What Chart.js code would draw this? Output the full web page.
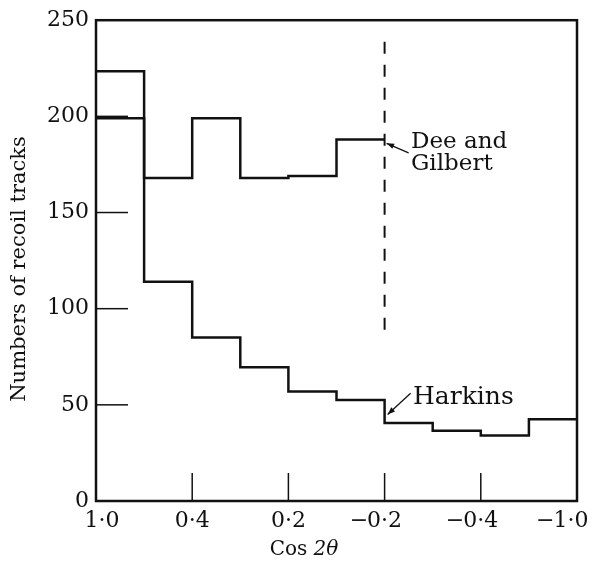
<!DOCTYPE html>
<html>
<head>
<meta charset="utf-8">
<script src="https://cdn.jsdelivr.net/npm/chart.js@4.4.1/dist/chart.umd.min.js"></script>
<style>
  body { margin: 0; background: #fff; }
  #wrap { width: 593px; height: 564px; position: relative; }
</style>
</head>
<body>
<div id="wrap"><canvas id="recoilChart"></canvas></div>
<script>
// bin edges 0..10 on the x axis, tick labels every second edge
const binEdges = [0, 1, 2, 3, 4, 5, 6, 7, 8, 9, 10];
const xTickLabels = ['1·0', '0·4', '0·2', '−0·2', '−0·4', '−1·0'];

// counts per bin
const harkins = [199, 114, 85, 69.5, 57, 52.5, 40.5, 36.5, 34, 42.5];
const deeGilbert = [223.5, 168, 199, 168, 169, 188];

// dashed marker at cos 2θ = −0·2
const dashX = 6;
const dashRange = [89, 241];

function histPoints(values) {
  const pts = values.map((v, i) => ({ x: binEdges[i], y: v }));
  pts.push({ x: binEdges[values.length], y: values[values.length - 1] });
  return pts;
}

const serif = '"DejaVu Serif", "Liberation Serif", serif';

const decorPlugin = {
  id: 'decor',
  afterDraw(chart) {
    const ctx = chart.ctx;
    const a = chart.chartArea;
    const xs = chart.scales.x, ys = chart.scales.y;
    ctx.save();
    ctx.strokeStyle = '#111';
    ctx.fillStyle = '#111';

    // frame
    ctx.lineWidth = 2.5;
    ctx.strokeRect(a.left, a.top, a.right - a.left, a.bottom - a.top);

    // inward tick marks
    ctx.lineWidth = 1.5;
    [50, 100, 150, 200].forEach(v => {
      const y = ys.getPixelForValue(v);
      ctx.beginPath(); ctx.moveTo(a.left, y); ctx.lineTo(a.left + 32, y); ctx.stroke();
    });
    [2, 4, 6, 8].forEach(v => {
      const x = xs.getPixelForValue(v);
      ctx.beginPath(); ctx.moveTo(x, a.bottom); ctx.lineTo(x, a.bottom - 28); ctx.stroke();
    });

    // x tick labels: numeric part centred on the tick, minus sign hanging left
    ctx.font = '22px ' + serif;
    ctx.textBaseline = 'alphabetic';
    xTickLabels.forEach((lab, i) => {
      let x = xs.getPixelForValue(i * 2);
      if (i === 0) x += 6;
      if (i === xTickLabels.length - 1) x -= 6;
      const num = lab.replace('−', '');
      const wn = ctx.measureText(num).width;
      ctx.textAlign = 'left';
      ctx.fillText(num, x - wn / 2, 527);
      if (lab.startsWith('−')) {
        ctx.textAlign = 'right';
        ctx.fillText('−', x - wn / 2 + 1, 527);
      }
    });

    // arrows
    function arrow(x1, y1, x2, y2) {
      ctx.lineWidth = 1.3;
      ctx.beginPath(); ctx.moveTo(x1, y1); ctx.lineTo(x2, y2); ctx.stroke();
      const ang = Math.atan2(y2 - y1, x2 - x1);
      ctx.beginPath();
      ctx.moveTo(x2, y2);
      ctx.lineTo(x2 - 8 * Math.cos(ang - 0.35), y2 - 8 * Math.sin(ang - 0.35));
      ctx.lineTo(x2 - 8 * Math.cos(ang + 0.35), y2 - 8 * Math.sin(ang + 0.35));
      ctx.closePath(); ctx.fill();
    }
    const gx = xs.getPixelForValue(dashX);
    arrow(gx + 24, ys.getPixelForValue(181), gx + 2, ys.getPixelForValue(186));
    arrow(gx + 26, ys.getPixelForValue(56), gx + 3, ys.getPixelForValue(45));

    // series labels
    ctx.textAlign = 'left';
    ctx.font = '23px ' + serif;
    ctx.fillText('Dee and', 411, 148);
    ctx.fillText('Gilbert', 411, 170);
    ctx.font = '25px ' + serif;
    ctx.fillText('Harkins', 413, 404);

    // x axis title
    ctx.font = '20px ' + serif;
    const w1 = ctx.measureText('Cos ').width;
    ctx.font = 'italic 20px ' + serif;
    const w2 = ctx.measureText('2θ').width;
    const x0 = 304 - (w1 + w2) / 2;
    ctx.font = '20px ' + serif;
    ctx.fillText('Cos ', x0, 555);
    ctx.font = 'italic 20px ' + serif;
    ctx.fillText('2θ', x0 + w1, 555);

    // y axis title
    ctx.translate(25, 269);
    ctx.rotate(-Math.PI / 2);
    ctx.textAlign = 'center';
    ctx.font = '21px ' + serif;
    ctx.fillText('Numbers of recoil tracks', 0, 0);
    ctx.restore();
  }
};

const ctx = document.getElementById('recoilChart').getContext('2d');
const recoilChart = new Chart(ctx, {
  type: 'scatter',
  data: {
    datasets: [{
      label: 'Harkins',
      data: histPoints(harkins),
      showLine: true,
      stepped: 'before',
      borderColor: '#111',
      borderWidth: 2.5,
      pointRadius: 0
    }, {
      label: 'Dee and Gilbert',
      data: histPoints(deeGilbert),
      showLine: true,
      stepped: 'before',
      borderColor: '#111',
      borderWidth: 2.5,
      pointRadius: 0
    }, {
      label: 'marker',
      data: dashRange.map(v => ({ x: dashX, y: v })),
      showLine: true,
      borderColor: '#111',
      borderWidth: 2,
      borderDash: [12, 11],
      pointRadius: 0
    }]
  },
  options: {
    responsive: true,
    maintainAspectRatio: false,
    animation: false,
    layout: { padding: { top: 20, right: 16, left: 0, bottom: 0 } },
    plugins: {
      legend: { display: false },
      tooltip: { enabled: false }
    },
    scales: {
      x: {
        type: 'linear',
        min: 0,
        max: 10,
        grid: { display: false, drawTicks: false },
        border: { display: false },
        ticks: { display: false, stepSize: 2 },
        afterFit: s => { s.height = 63; s.paddingLeft = 0; s.paddingRight = 0; }
      },
      y: {
        min: 0,
        max: 250,
        grid: { display: false, drawTicks: false },
        border: { display: false },
        ticks: {
          stepSize: 50,
          padding: 7,
          color: '#111',
          font: { family: serif, size: 22 }
        },
        afterFit: s => { s.width = 96; }
      }
    }
  },
  plugins: [decorPlugin]
});
</script>
</body>
</html>
